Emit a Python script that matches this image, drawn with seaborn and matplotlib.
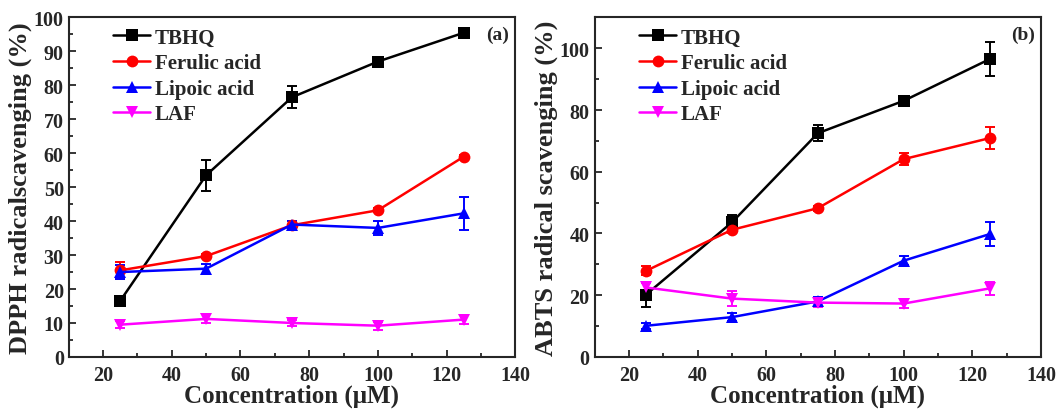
import numpy as np
import pandas as pd
import matplotlib
matplotlib.use("Agg")
import matplotlib.pyplot as plt
import seaborn as sns

# data
conc = [25, 50, 75, 100, 125]
compounds = ["TBHQ", "Ferulic acid", "Lipoic acid", "LAF"]

# (a) DPPH
dpph_tbhq = [16.5, 53.5, 76.5, 87.0, 95.5]
dpph_ferulic = [25.5, 29.7, 38.8, 43.2, 59.0]
dpph_lipoic = [25.0, 26.0, 39.0, 38.0, 42.3]
dpph_laf = [9.5, 11.2, 10.0, 9.2, 11.0]
dpph_tbhq_err = [1.5, 4.6, 3.2, 0.6, 0.5]
dpph_ferulic_err = [2.5, 0.6, 1.2, 0.6, 0.6]
dpph_lipoic_err = [2.0, 1.5, 1.0, 2.0, 4.8]
dpph_laf_err = [1.0, 1.3, 1.0, 1.2, 1.3]

# (b) ABTS
abts_tbhq = [20.2, 43.6, 72.5, 83.0, 96.5]
abts_ferulic = [27.9, 41.2, 48.2, 64.1, 70.9]
abts_lipoic = [10.1, 12.9, 18.0, 31.2, 39.8]
abts_laf = [22.5, 18.9, 17.6, 17.3, 22.2]
abts_tbhq_err = [4.0, 2.5, 2.5, 0.8, 5.5]
abts_ferulic_err = [1.5, 1.0, 0.8, 2.0, 3.5]
abts_lipoic_err = [1.0, 1.3, 1.5, 1.5, 3.8]
abts_laf_err = [1.5, 2.5, 1.5, 1.5, 2.0]

colors = ["black", "red", "blue", "magenta"]
markers = ["s", "o", "^", "v"]


def long_df(series, errs):
    rows = []
    for name, vals, err in zip(compounds, series, errs):
        for c, v, e in zip(conc, vals, err):
            rows.append({"conc": c, "value": v, "err": e, "compound": name})
    return pd.DataFrame(rows)


df_a = long_df([dpph_tbhq, dpph_ferulic, dpph_lipoic, dpph_laf],
               [dpph_tbhq_err, dpph_ferulic_err, dpph_lipoic_err, dpph_laf_err])
df_b = long_df([abts_tbhq, abts_ferulic, abts_lipoic, abts_laf],
               [abts_tbhq_err, abts_ferulic_err, abts_lipoic_err, abts_laf_err])

sns.set_style("ticks")
plt.rcParams["font.family"] = ["Liberation Serif", "DejaVu Serif"]
plt.rcParams["font.weight"] = "bold"
plt.rcParams["axes.labelweight"] = "bold"

fig = plt.figure(figsize=(10.56, 4.1), dpi=100)
ax_a = fig.add_axes([0.065, 0.127, 0.423, 0.828])
ax_b = fig.add_axes([0.563, 0.127, 0.423, 0.828])

palette = dict(zip(compounds, colors))
marker_map = dict(zip(compounds, markers))


def draw(ax, df, ylim, yticks, ylabel, tag):
    for name in compounds:
        sub = df[df["compound"] == name]
        ax.errorbar(sub["conc"], sub["value"], yerr=sub["err"], fmt="none",
                    ecolor=palette[name], elinewidth=1.4, capsize=3.5, capthick=1.4, zorder=2)
    sns.lineplot(data=df, x="conc", y="value", hue="compound", style="compound",
                 palette=palette, markers=marker_map, dashes=False, markersize=8.5,
                 linewidth=1.8, markeredgewidth=0, ax=ax, zorder=3)
    ax.set_xlim(10, 140)
    ax.set_ylim(*ylim)
    ax.set_xticks([20, 40, 60, 80, 100, 120, 140])
    ax.set_xticks([30, 50, 70, 90, 110, 130], minor=True)
    ax.set_yticks(yticks)
    ax.set_yticks([t + (yticks[1] - yticks[0]) / 2 for t in yticks[:-1]], minor=True)
    ax.tick_params(direction="in", which="major", length=5, width=1.3, labelsize=14.5)
    ax.tick_params(axis="x", which="major", pad=6)
    ax.tick_params(direction="in", which="minor", length=3, width=1.3)
    ax.tick_params(top=False, right=False)
    for lab in ax.get_xticklabels() + ax.get_yticklabels():
        lab.set_fontweight("bold")
    for sp in ax.spines.values():
        sp.set_linewidth(1.5)
        sp.set_visible(True)
    ax.set_xlabel("Concentration (μM)", fontsize=18, fontweight="bold", labelpad=-1.5)
    ax.set_ylabel(ylabel, fontsize=19, fontweight="bold", labelpad=1)
    ax.text(0.985, 0.95, tag, transform=ax.transAxes, ha="right", va="center",
            fontsize=14, fontweight="bold")
    leg = ax.legend(loc="upper left", bbox_to_anchor=(0.07, 1.01), frameon=False,
                    prop={"size": 15, "weight": "bold"}, handlelength=1.75,
                    handletextpad=0.25, labelspacing=0.27, borderaxespad=0.25)
    leg.set_title(None)


draw(ax_a, df_a, (0, 100), list(range(0, 101, 10)), "DPPH radicalscavenging (%)", "(a)")
draw(ax_b, df_b, (0, 110), list(range(0, 101, 20)), "ABTS radical scavenging (%)", "(b)")

fig.savefig("out.png", dpi=100)
